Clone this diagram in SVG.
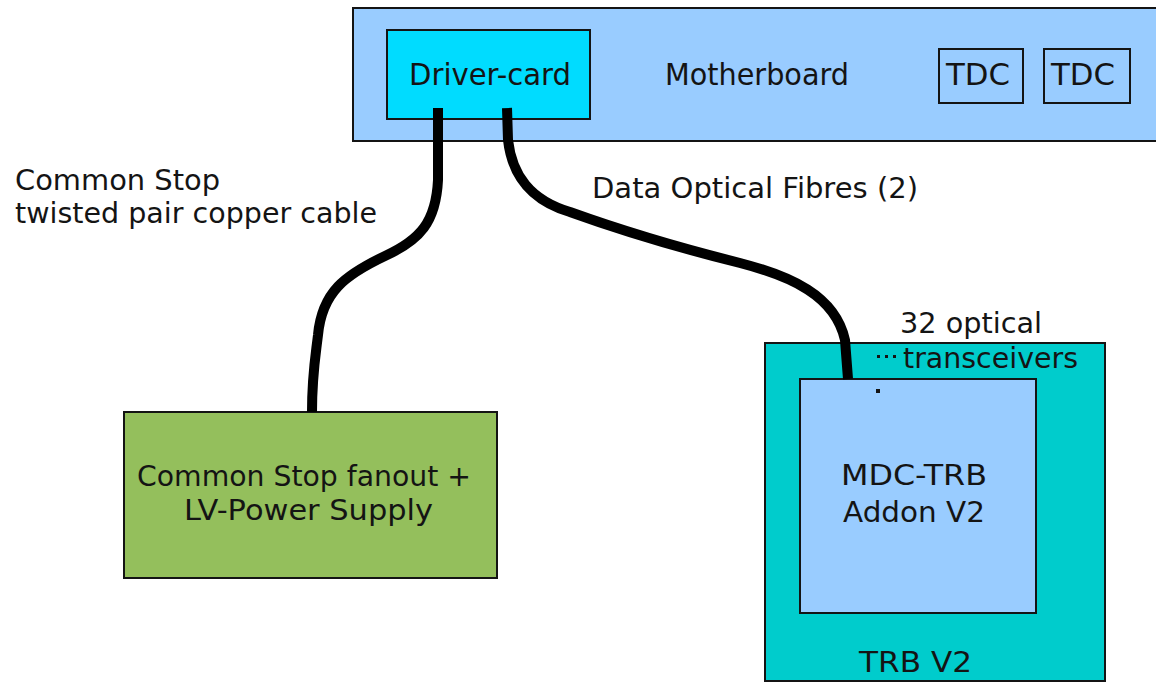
<svg xmlns="http://www.w3.org/2000/svg" width="1156" height="682" viewBox="0 0 1156 682">
<style>
.box{stroke:#141414;stroke-width:2}
.t{font-family:"DejaVu Sans","Liberation Sans",sans-serif;font-size:28px;fill:#141414}
.big{font-size:30px}
.cable{fill:none;stroke:#000;stroke-width:10;stroke-linecap:butt;stroke-linejoin:round}
.dot{fill:#141414}
</style>
<rect width="1156" height="682" fill="#ffffff"/>
<g id="motherboard">
<rect class="box" x="353" y="8" width="820" height="133" fill="#99ccff"/>
<text class="t big" x="665" y="85" textLength="184" lengthAdjust="spacingAndGlyphs">Motherboard</text>
</g>
<g id="driver-card">
<rect class="box" x="387" y="30" width="203" height="89" fill="#00dcff"/>
<text class="t big" x="409" y="85" textLength="162" lengthAdjust="spacingAndGlyphs">Driver-card</text>
</g>
<g id="tdc1">
<rect class="box" x="939" y="49" width="84" height="54" fill="none"/>
<text class="t big" x="946" y="85" textLength="64" lengthAdjust="spacingAndGlyphs">TDC</text>
</g>
<g id="tdc2">
<rect class="box" x="1044" y="49" width="86" height="54" fill="none"/>
<text class="t big" x="1051" y="85" textLength="64" lengthAdjust="spacingAndGlyphs">TDC</text>
</g>
<g id="fanout">
<rect class="box" x="124" y="412" width="373" height="166" fill="#94bf5c"/>
<text class="t" x="137" y="486" textLength="334" lengthAdjust="spacingAndGlyphs">Common Stop fanout +</text>
<text class="t" x="184" y="520" textLength="249" lengthAdjust="spacingAndGlyphs">LV-Power Supply</text>
</g>
<g id="trb">
<rect class="box" x="765" y="343" width="340" height="338" fill="#00cccc"/>
<text class="t" x="859" y="672" textLength="113" lengthAdjust="spacingAndGlyphs">TRB V2</text>
</g>
<g id="mdc">
<rect class="box" x="800" y="379" width="236" height="234" fill="#99ccff"/>
<text class="t" x="841" y="485" textLength="146" lengthAdjust="spacingAndGlyphs">MDC-TRB</text>
<text class="t" x="843" y="522" textLength="142" lengthAdjust="spacingAndGlyphs">Addon V2</text>
</g>
<g id="connectors">
<path class="cable" d="M438,108 V180 C436,222 420,240 385,256 C345,275 322,292 318,335 C315,360 312,375 312,412"/>
<path class="cable" d="M507,108 L508,140 C512,175 530,200 570,212 C620,230 680,248 740,263 C790,276 835,295 845,340 L848,379"/>
</g>
<g id="labels">
<text class="t" x="15" y="190" textLength="205" lengthAdjust="spacingAndGlyphs">Common Stop</text>
<text class="t" x="15" y="223" textLength="362" lengthAdjust="spacingAndGlyphs">twisted pair copper cable</text>
<text class="t" x="592" y="198" textLength="326" lengthAdjust="spacingAndGlyphs">Data Optical Fibres (2)</text>
<text class="t" x="900" y="333" textLength="142" lengthAdjust="spacingAndGlyphs">32 optical</text>
<text class="t" x="903" y="368" textLength="175" lengthAdjust="spacingAndGlyphs">transceivers</text>
<rect class="dot" x="877" y="355" width="3" height="3"/>
<rect class="dot" x="885" y="355" width="3" height="3"/>
<rect class="dot" x="893" y="355" width="3" height="3"/>
<rect class="dot" x="876" y="389" width="4" height="4"/>
</g>
</svg>
